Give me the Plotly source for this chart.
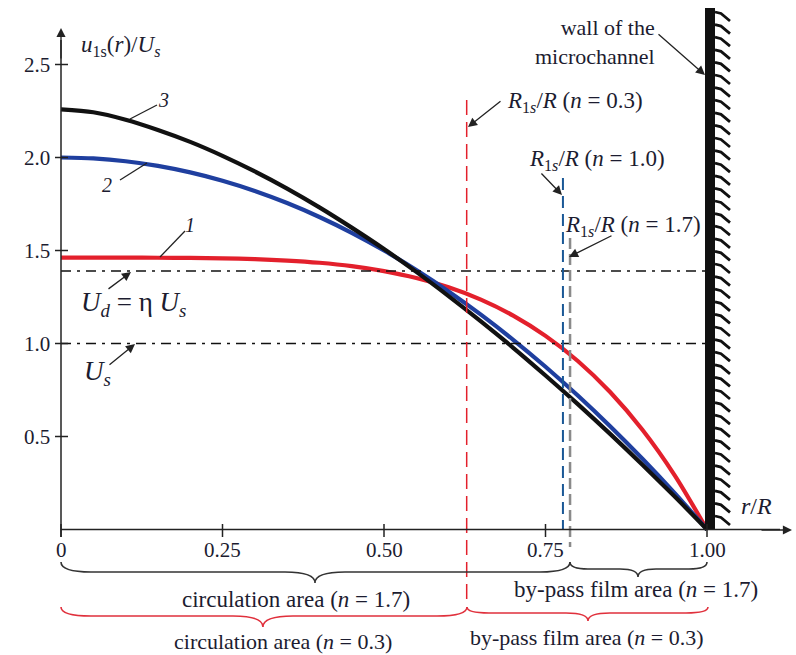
import plotly.graph_objects as go

# ---------------- data ----------------
r = [0, 0.05, 0.1, 0.15, 0.2, 0.25, 0.3, 0.35, 0.4, 0.45, 0.5, 0.55, 0.6, 0.65, 0.7, 0.75, 0.8, 0.85, 0.9, 0.95, 1.0]
u_curve1 = [1.462, 1.462, 1.462, 1.461, 1.460, 1.458, 1.454, 1.446, 1.434, 1.416, 1.389, 1.352, 1.302, 1.236, 1.150, 1.041, 0.906, 0.739, 0.536, 0.291, 0.0]
u_curve2 = [2.000, 1.995, 1.980, 1.955, 1.920, 1.875, 1.820, 1.755, 1.680, 1.595, 1.500, 1.395, 1.280, 1.155, 1.020, 0.875, 0.720, 0.555, 0.380, 0.195, 0.0]
u_curve3 = [2.259, 2.243, 2.203, 2.148, 2.084, 2.009, 1.925, 1.833, 1.732, 1.623, 1.508, 1.385, 1.255, 1.119, 0.977, 0.828, 0.674, 0.514, 0.348, 0.177, 0.0]

U_d_level = 1.39
U_s_level = 1.0
R1s_n03 = 0.628
R1s_n10 = 0.777
R1s_n17 = 0.788

x_ticks = [0, 0.25, 0.5, 0.75, 1.0]
x_tick_labels = ["0", "0.25", "0.50", "0.75", "1.00"]
y_ticks = [0.5, 1.0, 1.5, 2.0, 2.5]
y_tick_labels = ["0.5", "1.0", "1.5", "2.0", "2.5"]

# ---------------- layout helpers (pixel -> data) ----------------
W, H = 796, 655
X0, SX = 61.0, 646.0
Y0, SY = 529.5, 186.0
def dx(px): return (px - X0) / SX
def dy(py): return (Y0 - py) / SY

FONT = "Liberation Serif"
TXT = "#1c1c30"
RED = "#e3202c"
BLUE = "#1f3f9f"
BLACK = "#111111"

fig = go.Figure()

# curves
fig.add_trace(go.Scatter(x=r, y=u_curve1, mode="lines", line=dict(color=RED, width=4.2, shape="spline", smoothing=0.8), hoverinfo="skip"))
fig.add_trace(go.Scatter(x=r, y=u_curve2, mode="lines", line=dict(color=BLUE, width=4.2, shape="spline", smoothing=0.8), hoverinfo="skip"))
fig.add_trace(go.Scatter(x=r, y=u_curve3, mode="lines", line=dict(color=BLACK, width=4.2, shape="spline", smoothing=0.8), hoverinfo="skip"))

shapes = []
# dash-dot reference levels
for lvl in (U_d_level, U_s_level):
    shapes.append(dict(type="line", x0=0, x1=dx(705), y0=lvl, y1=lvl, xref="x", yref="y",
                       line=dict(color=BLACK, width=1.5, dash="10px,6px,3px,6px")))
# vertical R1s lines
shapes.append(dict(type="line", x0=R1s_n03, x1=R1s_n03, y0=dy(100), y1=dy(606), xref="x", yref="y",
                   line=dict(color=RED, width=1.5, dash="15px,7px")))
shapes.append(dict(type="line", x0=R1s_n10, x1=R1s_n10, y0=dy(178), y1=0, xref="x", yref="y",
                   line=dict(color="#1a5896", width=2, dash="12px,6px")))
shapes.append(dict(type="line", x0=R1s_n17, x1=R1s_n17, y0=dy(238), y1=dy(547), xref="x", yref="y",
                   line=dict(color="#8a8a8a", width=2.5, dash="11px,5px")))
# wall
shapes.append(dict(type="rect", x0=dx(705), x1=dx(715), y0=0, y1=dy(8), xref="x", yref="y",
                   line=dict(width=0), fillcolor=BLACK))
hatch = ""
yy = 12.0
while yy < 524:
    hatch += f"M{dx(715)},{dy(yy)} L{dx(721)},{dy(yy+1.5)} L{dx(730)},{dy(yy+9)} "
    yy += 12.6
shapes.append(dict(type="path", path=hatch, xref="x", yref="y", line=dict(color=BLACK, width=2.8)))

# axes lines
shapes.append(dict(type="line", x0=0, x1=dx(780), y0=0, y1=0, xref="x", yref="y", line=dict(color="#222", width=1.5)))
shapes.append(dict(type="line", x0=0, x1=0, y0=dy(537), y1=dy(40), xref="x", yref="y", line=dict(color="#222", width=1.5)))
# ticks
for t in x_ticks:
    shapes.append(dict(type="line", x0=t, x1=t, y0=dy(524), y1=dy(537), xref="x", yref="y", line=dict(color="#222", width=1.5)))
for t in y_ticks:
    shapes.append(dict(type="line", x0=dx(55), x1=dx(68), y0=t, y1=t, xref="x", yref="y", line=dict(color="#222", width=1.5)))
# leader lines for curve numbers
for (a, b, c, d) in [(130, 119, 157, 105), (120, 180, 147, 163), (160, 257, 185, 231)]:
    shapes.append(dict(type="line", x0=dx(a), y0=dy(b), x1=dx(c), y1=dy(d), xref="x", yref="y",
                       line=dict(color="#222", width=1.3)))

# braces
def brace(x1, x2, yend, yline, xc, ycusp, rad, color):
    p = (f"M{dx(x1)},{dy(yend)} Q{dx(x1)},{dy(yline)} {dx(x1+rad)},{dy(yline)} "
         f"L{dx(xc-rad)},{dy(yline)} Q{dx(xc)},{dy(yline)} {dx(xc)},{dy(ycusp)} "
         f"Q{dx(xc)},{dy(yline)} {dx(xc+rad)},{dy(yline)} "
         f"L{dx(x2-rad)},{dy(yline)} Q{dx(x2)},{dy(yline)} {dx(x2)},{dy(yend)}")
    return dict(type="path", path=p, xref="x", yref="y", line=dict(color=color, width=1.6))

shapes.append(brace(61, 570, 562, 572, 315, 583, 30, "#333333"))
shapes.append(brace(570, 707, 562, 569, 638, 577, 18, "#333333"))
shapes.append(brace(61, 467, 607, 616, 263, 627, 30, "#e0303c"))
shapes.append(brace(467, 708, 607, 613, 588, 621, 22, "#e0303c"))

ann = []
def text(px, py, s, size=18, xanchor="center", color=TXT, align="center"):
    ann.append(dict(x=dx(px), y=dy(py), xref="x", yref="y", text=s, showarrow=False,
                    xanchor=xanchor, yanchor="middle", align=align,
                    font=dict(family=FONT, size=size, color=color)))
def arrow(tx, ty, hx, hy):
    ann.append(dict(x=dx(hx), y=dy(hy), ax=dx(tx), ay=dy(ty), xref="x", yref="y", axref="x", ayref="y",
                    text="", showarrow=True, arrowhead=2, arrowsize=1.4, arrowwidth=1.3, arrowcolor="#222"))

# axis arrows
arrow(61, 60, 61, 28)
arrow(760, 530, 792, 530)

# tick labels
for t, lab in zip(x_ticks, x_tick_labels):
    ann.append(dict(x=t, y=dy(550), xref="x", yref="y", text=lab, showarrow=False,
                    xanchor="center", yanchor="middle", font=dict(family=FONT, size=21, color=TXT)))
for t, lab in zip(y_ticks, y_tick_labels):
    ann.append(dict(x=dx(52), y=t, xref="x", yref="y", text=lab, showarrow=False,
                    xanchor="right", yanchor="middle", font=dict(family=FONT, size=21, color=TXT)))

# axis titles
text(79, 46, "<i>u</i><sub>1s</sub>(<i>r</i>)/<i>U</i><sub><i>s</i></sub>", size=23, xanchor="left")
text(739, 506, "<i>r</i>/<i>R</i>", size=24, xanchor="left")

# curve numbers
text(163, 100, "<i>3</i>", size=20)
text(107, 185, "<i>2</i>", size=20)
text(190, 225, "<i>1</i>", size=20)

# reference levels
arrow(107, 290, 131, 272)
text(79, 304, "<i>U</i><sub><i>d</i></sub> = η <i>U</i><sub><i>s</i></sub>", size=27, xanchor="left")
arrow(108, 366, 135, 344)
text(82, 373, "<i>U</i><sub><i>s</i></sub>", size=27, xanchor="left")

# R1s labels
text(505, 102, "<i>R</i><sub>1<i>s</i></sub>/<i>R</i> (<i>n</i> = 0.3)", size=23, xanchor="left")
arrow(502, 100, 468, 127)
text(527, 160, "<i>R</i><sub>1<i>s</i></sub>/<i>R</i> (<i>n</i> = 1.0)", size=23, xanchor="left")
arrow(540, 172, 562, 195)
text(563, 226, "<i>R</i><sub>1<i>s</i></sub>/<i>R</i> (<i>n</i> = 1.7)", size=23, xanchor="left")
arrow(613, 235, 569, 257)

# wall label
ann.append(dict(x=dx(657), y=dy(42), xref="x", yref="y", text="wall of the<br>microchannel", showarrow=False,
                xanchor="right", yanchor="middle", align="right",
                font=dict(family=FONT, size=22, color=TXT)))
arrow(657, 33, 705, 75)

# brace labels
text(296, 599, "circulation area (<i>n</i> = 1.7)", size=23)
text(636, 589, "by-pass film area (<i>n</i> = 1.7)", size=23)
text(283, 641, "circulation area (<i>n</i> = 0.3)", size=22)
text(587, 637, "by-pass film area (<i>n</i> = 0.3)", size=22)

fig.update_layout(
    width=W, height=H, margin=dict(l=0, r=0, t=0, b=0),
    paper_bgcolor="white", plot_bgcolor="white", showlegend=False,
    xaxis=dict(range=[dx(0), dx(W)], visible=False, fixedrange=True),
    yaxis=dict(range=[dy(H), dy(0)], visible=False, fixedrange=True),
    shapes=shapes, annotations=ann,
)
fig.write_html("out.html")
